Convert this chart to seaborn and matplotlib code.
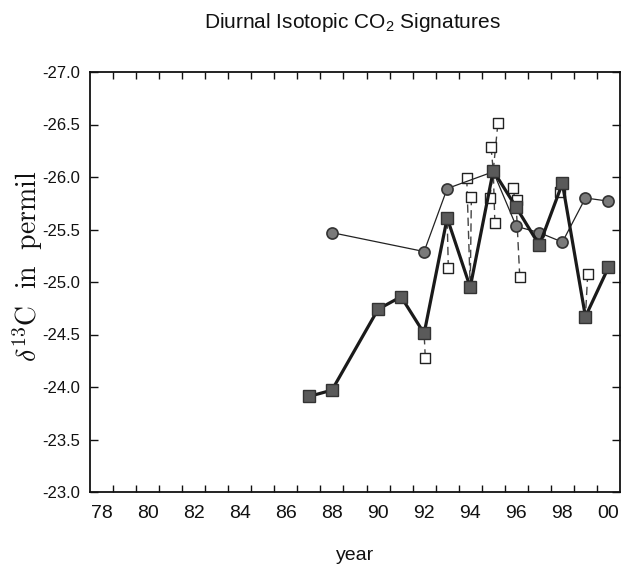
import numpy as np
import matplotlib
matplotlib.use("Agg")
import matplotlib.pyplot as plt
import seaborn as sns

# yearly mean values (thick line, filled squares)
years_mean = [87, 88, 90, 91, 92, 93, 94, 95, 96, 97, 98, 99, 100]
mean_d13c = [-23.91, -23.97, -24.74, -24.86, -24.51, -25.61, -24.95,
             -26.06, -25.71, -25.35, -25.94, -24.67, -25.14]

# second series (thin line, circles)
circle_years = [88, 92, 93, 95, 96, 97, 98, 99, 100]
circle_d13c = [-25.47, -25.29, -25.89, -26.05, -25.53, -25.47, -25.38, -25.80, -25.77]

# individual measurements (open squares, dashed to yearly mean)
open_x = [92.05, 93.05, 93.85, 94.05, 94.85, 94.90, 95.07, 95.20,
          95.85, 96.05, 96.15, 97.90, 99.10]
open_y = [-24.28, -25.13, -25.99, -25.81, -25.80, -26.29, -25.56, -26.51,
          -25.90, -25.78, -25.05, -25.86, -25.08]
open_group = [92, 93, 94, 94, 95, 95, 95, 95, 96, 96, 96, 98, 99]

x_ticks = [78, 80, 82, 84, 86, 88, 90, 92, 94, 96, 98, 100]
x_ticklabels = ["78", "80", "82", "84", "86", "88", "90", "92", "94", "96", "98", "00"]
y_ticks = [-27.0, -26.5, -26.0, -25.5, -25.0, -24.5, -24.0, -23.5, -23.0]

sns.set_theme(style="white")
plt.rcParams["font.family"] = ["Liberation Sans", "DejaVu Sans"]
plt.rcParams["mathtext.fontset"] = "custom"
plt.rcParams["mathtext.rm"] = "Liberation Sans"
plt.rcParams["mathtext.it"] = "Liberation Sans:italic"
plt.rcParams["mathtext.bf"] = "Liberation Sans:bold"
plt.rcParams["axes.unicode_minus"] = False

fig = plt.figure(figsize=(6.23, 5.67), dpi=100)
ax = fig.add_axes([90 / 623, 75 / 567, 530 / 623, 420 / 567])

mean_lookup = dict(zip(years_mean, mean_d13c))
for x, y, g in zip(open_x, open_y, open_group):
    ax.plot([x, g], [y, mean_lookup[g]], linestyle=(0, (6, 3.5)),
            color="#444444", linewidth=1.0, zorder=1)

sns.scatterplot(x=open_x, y=open_y, marker="s", s=55, facecolor="white",
                edgecolor="#222222", linewidth=1.0, zorder=2, ax=ax)

sns.lineplot(x=circle_years, y=circle_d13c, color="#222222", linewidth=0.9,
             marker="o", markersize=8, markerfacecolor="#7a7a7a",
             markeredgecolor="#333333", markeredgewidth=1.2, zorder=3, ax=ax)

sns.lineplot(x=years_mean, y=mean_d13c, color="#1a1a1a", linewidth=2.3,
             marker="s", markersize=8, markerfacecolor="#5a5a5a",
             markeredgecolor="#333333", markeredgewidth=1.0, zorder=4, ax=ax)

ax.set_xlim(77.5, 100.5)
ax.set_ylim(-23.0, -27.0)
ax.set_xticks(x_ticks)
ax.set_xticklabels(x_ticklabels)
ax.set_xticks(np.arange(78.5, 100.0, 1.0), minor=True)
ax.tick_params(axis="x", which="major", length=0, labelsize=14, pad=9, colors="#111111")
ax.tick_params(axis="x", which="minor", direction="in", length=5, width=1,
               top=True, bottom=True, color="#111111")
ax.set_yticks(y_ticks)
ax.set_yticklabels([f"{v:.1f}" for v in y_ticks])
ax.tick_params(axis="y", which="major", direction="in", length=6, width=1,
               left=True, right=True, labelsize=12, pad=7, colors="#111111")

for sp in ax.spines.values():
    sp.set_color("#111111")
    sp.set_linewidth(1.3)

ax.set_ylabel(r"$\delta^{13}\mathrm{C\ \ in\ \ permil}$", fontsize=20,
              math_fontfamily="cm", color="#111111")
ax.yaxis.set_label_coords(-0.085, 0.536)
ax.set_xlabel("year", fontsize=14, labelpad=18, color="#111111")
fig.text(352 / 623, 1 - 22 / 567, "Diurnal Isotopic CO$_2$ Signatures",
         ha="center", va="center", fontsize=15, color="#111111")

fig.savefig("out.png", dpi=100, facecolor="white")
